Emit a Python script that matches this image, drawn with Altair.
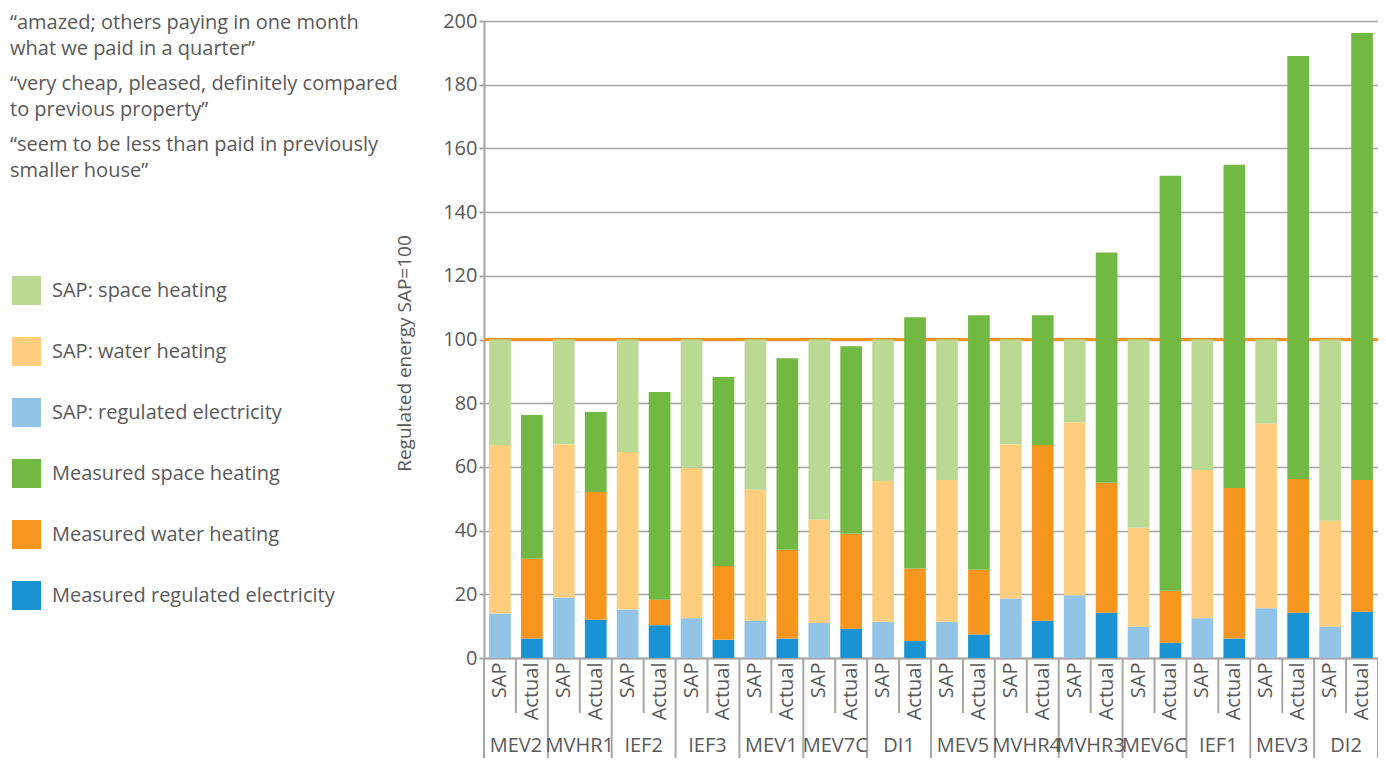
import altair as alt
import pandas as pd

FONT = "Open Sans"
GREY = "#595959"
LINE = "#a6a6a6"

groups = ["MEV2", "MVHR1", "IEF2", "IEF3", "MEV1", "MEV7C", "DI1", "MEV5",
          "MVHR4", "MVHR3", "MEV6C", "IEF1", "MEV3", "DI2"]
kinds = ["SAP", "Actual"]

sap_elec = [14.0, 19.0, 15.2, 12.5, 11.7, 11.0, 11.4, 11.4, 18.7, 19.7, 9.8, 12.5, 15.6, 9.8]
sap_water = [52.9, 48.1, 49.5, 47.2, 41.1, 32.4, 44.2, 44.5, 48.4, 54.3, 31.1, 46.5, 58.0, 33.3]
sap_space = [33.1, 32.9, 35.3, 40.3, 47.2, 56.6, 44.4, 44.1, 32.9, 26.0, 59.1, 41.0, 26.4, 56.9]
act_elec = [6.1, 12.0, 10.3, 5.7, 6.1, 9.2, 5.3, 7.4, 11.7, 14.2, 4.8, 6.1, 14.2, 14.5]
act_water = [25.1, 40.1, 8.0, 23.2, 27.9, 29.8, 22.8, 20.3, 55.2, 40.8, 16.3, 47.3, 42.0, 41.4]
act_space = [45.1, 25.1, 65.2, 59.3, 60.1, 58.9, 78.9, 79.9, 40.7, 72.3, 130.3, 101.5, 132.8, 140.3]

series_names = ["SAP: space heating", "SAP: water heating", "SAP:  regulated electricity",
                "Measured space heating", "Measured water heating", "Measured regulated electricity"]
series_colors = ["#bad993", "#fecd7d", "#92c4e8", "#72b944", "#f7961e", "#1993d3"]

y_ticks = [0, 20, 40, 60, 80, 100, 120, 140, 160, 180, 200]
reference_level = 100
y_title = "Regulated energy SAP=100"

quotes = [
    ["\u201camazed; others paying in one month", "what we paid in a quarter\u201d"],
    ["\u201cvery cheap, pleased, definitely compared", "to previous property\u201d"],
    ["\u201cseem to be less than paid in previously", "smaller house\u201d"],
]

rows = []
for i, g in enumerate(groups):
    parts = {
        "SAP": [(sap_elec, 2, 0), (sap_water, 1, 1), (sap_space, 0, 2)],
        "Actual": [(act_elec, 5, 0), (act_water, 4, 1), (act_space, 3, 2)],
    }
    for k in kinds:
        for arr, si, order in parts[k]:
            rows.append(dict(key=f"{g}|{k}", group=g, kind=k,
                             series=series_names[si], order=order, value=arr[i]))
df = pd.DataFrame(rows)
keys = [f"{g}|{k}" for g in groups for k in kinds]

W, H = 894, 637
xscale = alt.Scale(domain=keys, paddingInner=0, paddingOuter=0)
xaxis = alt.Axis(labelExpr="split(datum.label, '|')[1]", labelAngle=270,
                 labelFontSize=20, labelColor=GREY, labelPadding=4,
                 ticks=False, domainColor=LINE, domainWidth=2, grid=False, title=None)


def xenc(band=0.5):
    return alt.X("key:N", sort=keys, scale=xscale, axis=xaxis, bandPosition=band)


bars = alt.Chart(df).mark_bar(width=alt.RelativeBandSize(0.68)).encode(
    x=alt.X("key:N", sort=keys, scale=xscale, axis=xaxis),
    y=alt.Y("value:Q", stack="zero",
            scale=alt.Scale(domain=[0, 200], nice=False),
            axis=alt.Axis(values=y_ticks, title=y_title, labelFontSize=20, labelColor=GREY,
                          labelPadding=2, tickSize=5, tickColor=LINE, tickWidth=2,
                          domainColor=LINE, domainWidth=2, gridColor=LINE, gridWidth=1.5,
                          titleFontSize=19, titleFontWeight="normal", titleColor=GREY,
                          titleX=-80, titleY=332, titleAngle=270, titleAlign="center",
                          titleBaseline="middle")),
    color=alt.Color("series:N", scale=alt.Scale(domain=series_names, range=series_colors),
                    legend=alt.Legend(title=None, orient="none", legendX=-472, legendY=255,
                                      symbolType="square", symbolSize=841, symbolStrokeWidth=0,
                                      labelFontSize=20, labelColor=GREY, labelOffset=11,
                                      rowPadding=32, labelLimit=400)),
    order=alt.Order("order:Q"),
)

ref_rule = alt.Chart(pd.DataFrame({"level": [reference_level]})).mark_rule(
    color="#f7941d", strokeWidth=3).encode(y=alt.Y("level:Q"))

sap_df = pd.DataFrame({"group": groups, "key": [f"{g}|SAP" for g in groups]})
act_df = pd.DataFrame({"group": groups, "key": [f"{g}|Actual" for g in groups]})

long_sep = alt.Chart(sap_df).mark_rule(color=LINE, strokeWidth=2).encode(
    x=xenc(0), y=alt.value(H), y2=alt.value(H + 103))
end_sep = alt.Chart(act_df.tail(1)).mark_rule(color=LINE, strokeWidth=2).encode(
    x=xenc(1), y=alt.value(H), y2=alt.value(H + 103))
short_sep = alt.Chart(act_df).mark_rule(color=LINE, strokeWidth=2).encode(
    x=xenc(0), y=alt.value(H), y2=alt.value(H + 55))

grp_text = alt.Chart(sap_df).mark_text(fontSize=20, color=GREY, baseline="middle",
                                       align="center").encode(
    x=xenc(1), y=alt.value(H + 88), text="group:N")

quote_layers = []
for qi, q in enumerate(quotes):
    quote_layers.append(
        alt.Chart(pd.DataFrame({"a": [0]})).mark_text(
            fontSize=20, color=GREY, align="left", baseline="alphabetic", lineHeight=25.5
        ).encode(x=alt.value(-474), y=alt.value(8 + 61 * qi), text=alt.value(q))
    )

chart = alt.layer(ref_rule, bars, long_sep, end_sep, short_sep, grp_text, *quote_layers).properties(
    width=W, height=H,
    padding={"left": 476, "top": 13, "right": 0, "bottom": 100},
    autosize=alt.AutoSizeParams(type="none"),
).configure(font=FONT).configure_view(strokeWidth=0)

chart.save("out.html", embed_options={"renderer": "svg", "actions": False})
